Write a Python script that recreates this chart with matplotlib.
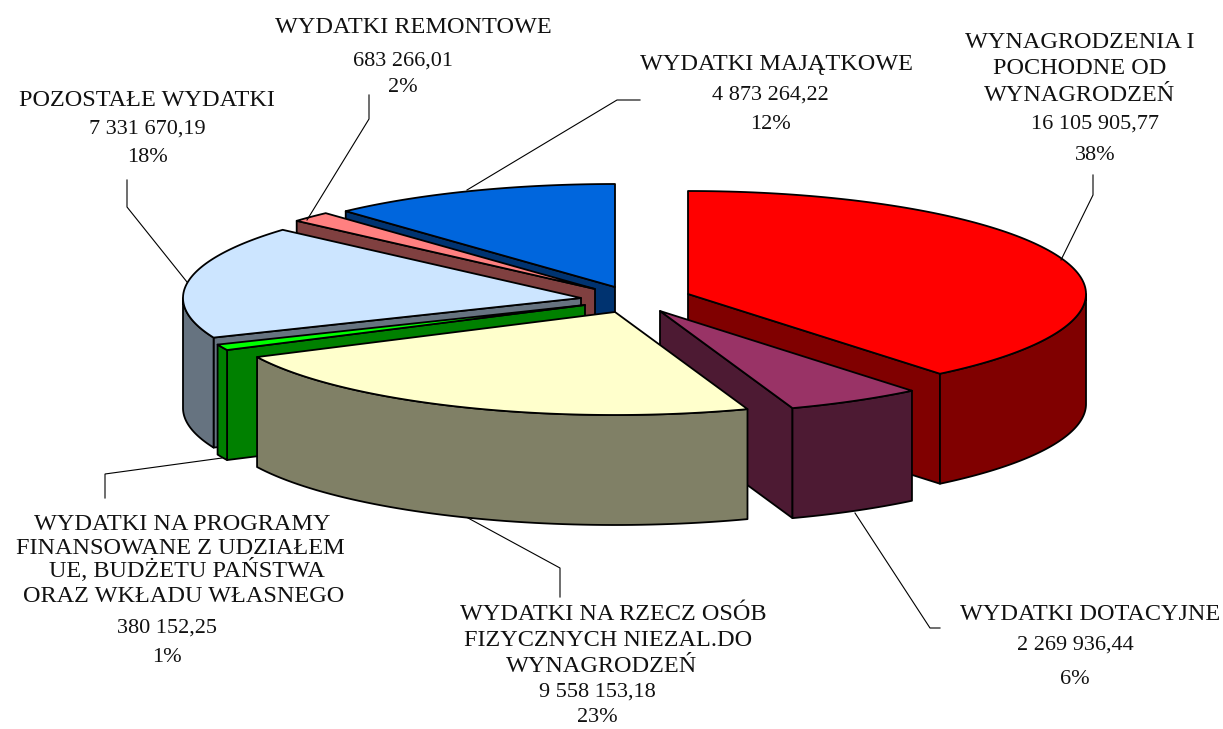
import numpy as np
import matplotlib
matplotlib.use('Agg')
import matplotlib.pyplot as plt
from matplotlib.patches import Polygon

plt.rcParams['font.family'] = ['Liberation Serif', 'DejaVu Serif']

# data to plot, clockwise from 12 o'clock
names = ['WYNAGRODZENIA', 'DOTACYJNE', 'OSOBY', 'PROGRAMY', 'POZOSTALE', 'REMONTOWE', 'MAJATKOWE']
values = [16105905.77, 2269936.44, 9558153.18, 380152.25, 7331670.19, 683266.01, 4873264.22]

top_colors = ['#FF0000', '#993366', '#FFFFCC', '#00FF00', '#CCE5FF', '#FF8080', '#0066DD']
side_colors = ['#800000', '#4D1A33', '#808066', '#008000', '#667380', '#804040', '#003370']

# exploded slice tips in pixels
tips = [(688, 294), (660, 311), (615, 312), (585, 305), (581, 298), (595, 289), (615, 287)]
draw_order = [6, 5, 4, 3, 0, 1, 2]

RX, RY, DEPTH = 398, 103, 110

fig = plt.figure(figsize=(12.23, 7.29), dpi=100)
ax = fig.add_axes([0, 0, 1, 1])
ax.set_xlim(0, 1223)
ax.set_ylim(729, 0)
ax.axis('off')

shares = np.array(values) / np.sum(values) * 360
ends = np.cumsum(shares)
starts = ends - shares


def rim(tip, angles):
    a = np.radians(angles)
    return np.column_stack([tip[0] + RX * np.sin(a), tip[1] - RY * np.cos(a)])


def face(points, color, lw=1.3):
    ax.add_patch(Polygon(points, closed=True, facecolor=color, edgecolor='black',
                         linewidth=lw, joinstyle='round'))


def wall(tip, angle, color):
    p = rim(tip, [angle])[0]
    face([tip, p, (p[0], p[1] + DEPTH), (tip[0], tip[1] + DEPTH)], color)


for i in draw_order:
    tip, s, e = tips[i], starts[i], ends[i]
    if 180 < s < 360:
        wall(tip, s, side_colors[i])
    if 0 < e < 180:
        wall(tip, e, side_colors[i])
    lo, hi = max(s, 90), min(e, 270)
    if hi > lo:
        edge = rim(tip, np.linspace(lo, hi, 60))
        face(np.vstack([edge, edge[::-1] + [0, DEPTH]]), side_colors[i])
    face(np.vstack([[tip], rim(tip, np.linspace(s, e, 120))]), top_colors[i])

# leader lines
leaders = [
    [(1093, 175), (1093, 195), (1061, 260)],
    [(940, 628), (930, 628), (855, 513)],
    [(560, 597), (560, 568), (468, 518)],
    [(105, 498), (105, 474), (222, 458)],
    [(127, 180), (127, 207), (187, 282)],
    [(369, 95), (369, 119), (307, 220)],
    [(640, 100), (617, 100), (467, 190)],
]
for line in leaders:
    xs, ys = zip(*line)
    ax.plot(xs, ys, color='black', lw=0.8, solid_joinstyle='miter')

# labels: text, centre x, centre y
labels = [
    ('WYNAGRODZENIA I', 1080, 42), ('POCHODNE OD', 1080, 68), ('WYNAGRODZEŃ', 1080, 95),
    ('16 105 905,77', 1095, 124), ('38%', 1095, 155),
    ('WYDATKI DOTACYJNE', 1090, 614), ('2 269 936,44', 1075, 645), ('6%', 1075, 679),
    ('WYDATKI NA RZECZ OSÓB', 613, 615), ('FIZYCZNYCH NIEZAL.DO', 608, 641),
    ('WYNAGRODZEŃ', 602, 666), ('9 558 153,18', 597, 692), ('23%', 597, 717),
    ('WYDATKI NA PROGRAMY', 182, 525), ('FINANSOWANE Z UDZIAŁEM', 180, 549),
    ('UE, BUDŻETU PAŃSTWA', 187, 570), ('ORAZ WKŁADU WŁASNEGO', 184, 596),
    ('380 152,25', 167, 628), ('1%', 167, 658),
    ('POZOSTAŁE WYDATKI', 147, 100), ('7 331 670,19', 147, 129), ('18%', 147, 157),
    ('WYDATKI REMONTOWE', 413, 27), ('683 266,01', 403, 61), ('2%', 403, 87),
    ('WYDATKI MAJĄTKOWE', 777, 64), ('4 873 264,22', 770, 95), ('12%', 770, 124),
]
for txt, x, y in labels:
    size = 17.5 if any(c.isalpha() for c in txt) else 16
    ax.text(x, y, txt, ha='center', va='center', fontsize=size, color='#111111')

fig.savefig('out.png', dpi=100, facecolor='white')
